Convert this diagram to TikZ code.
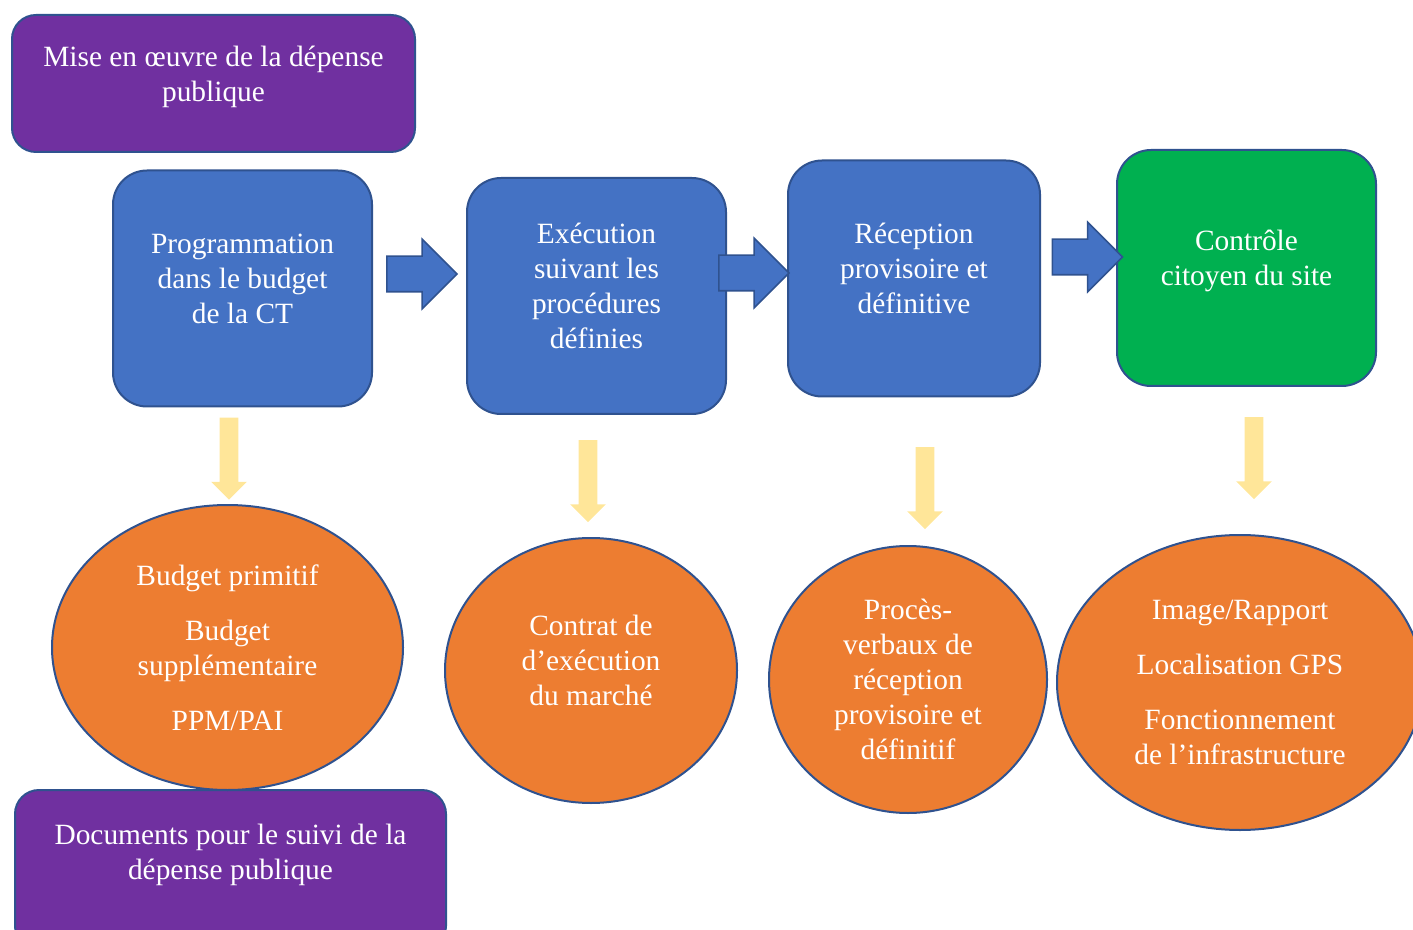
\documentclass[tikz,border=0pt]{standalone}
\usepackage{fontspec}
\setmainfont{Liberation Serif}
\usetikzlibrary{shapes.geometric,shapes.arrows}

\definecolor{boxblue}{HTML}{4472C4}
\definecolor{edgeblue}{HTML}{2F528F}
\definecolor{boxpurple}{HTML}{7030A0}
\definecolor{boxgreen}{HTML}{00B050}
\definecolor{ovalorange}{HTML}{ED7D31}
\definecolor{arrowyellow}{HTML}{FFE699}

\tikzset{
    every node/.style={text=white, align=center,
        font=\fontsize{14.7}{17.5}\selectfont},
    stagebox/.style={draw=edgeblue, line width=1pt, fill=boxblue,
        rounded corners=17pt, minimum width=129.5pt, minimum height=118pt,
        inner sep=0pt, text depth=10pt},
    headbox/.style={draw=edgeblue, line width=1pt, fill=boxpurple,
        rounded corners=12pt, inner sep=0pt},
    docoval/.style={ellipse, draw=edgeblue, line width=1pt,
        fill=ovalorange, inner sep=0pt},
    bluearrow/.style={single arrow, draw=edgeblue, line width=0.8pt,
        fill=boxblue, inner xsep=0pt, inner ysep=8.5pt,
        text height=0pt, text depth=0pt,
        single arrow head extend=8.5pt, minimum height=35pt},
    yellowarrow/.style={single arrow, fill=arrowyellow, rotate=-90,
        inner xsep=0pt, inner ysep=4.5pt, text height=0pt, text depth=0pt,
        single arrow head extend=4.25pt, minimum height=41pt}
}

\begin{document}
\begin{tikzpicture}[x=0.5pt, y=-0.5pt]
    \useasboundingbox (0,0) rectangle (1413,930);

    % titles
    \node[headbox, minimum width=201.5pt, minimum height=68.5pt, text depth=10pt]
        (mise) at (213.5,83.5) {Mise en œuvre de la dépense\\publique};
    \node[headbox, minimum width=215.5pt, minimum height=80pt, text depth=18pt]
        (suivi) at (230.5,870) {Documents pour le suivi de la\\dépense publique};

    % stages
    \node[stagebox] (prog) at (242.5,288.5) {Programmation\\dans le budget\\de la CT};
    \node[stagebox] (exec) at (596.5,296)
        {Exécution\\suivant les\\procédures\\définies};
    \node[stagebox, minimum width=126pt] (recep) at (914,278.5)
        {Réception\\provisoire et\\définitive};
    \node[stagebox, fill=boxgreen] (ctrl) at (1246.5,268)
        {Contrôle\\citoyen du site};

    \node[bluearrow] (a1) at (413,274) {};
    \node[bluearrow] (a2) at (745,273) {};
    \node[bluearrow] (a3) at (1078.5,257) {};

    % documents
    \node[yellowarrow] (y1) at (229,454) {};
    \node[yellowarrow] (y2) at (588,476.5) {};
    \node[yellowarrow] (y3) at (925,483.5) {};
    \node[yellowarrow] (y4) at (1254,453.5) {};

    \node[docoval, minimum width=175.5pt, minimum height=142.5pt] (budget)
        at (227.5,647.5) {Budget primitif\\[10pt]Budget\\supplémentaire\\[10pt]PPM/PAI};
    \node[docoval, minimum width=146pt, minimum height=132.5pt, text depth=10pt]
        (contrat) at (591,670.5) {Contrat de\\d’exécution\\du marché};
    \node[docoval, minimum width=139pt, minimum height=133.5pt] (pv)
        at (908,679.5) {Procès-\\verbaux de\\réception\\provisoire et\\définitif};
    \node[docoval, minimum width=183pt, minimum height=147.5pt] (image)
        at (1240,682.5) {Image/Rapport\\[10pt]Localisation GPS\\[10pt]Fonctionnement\\de l’infrastructure};
\end{tikzpicture}
\end{document}
